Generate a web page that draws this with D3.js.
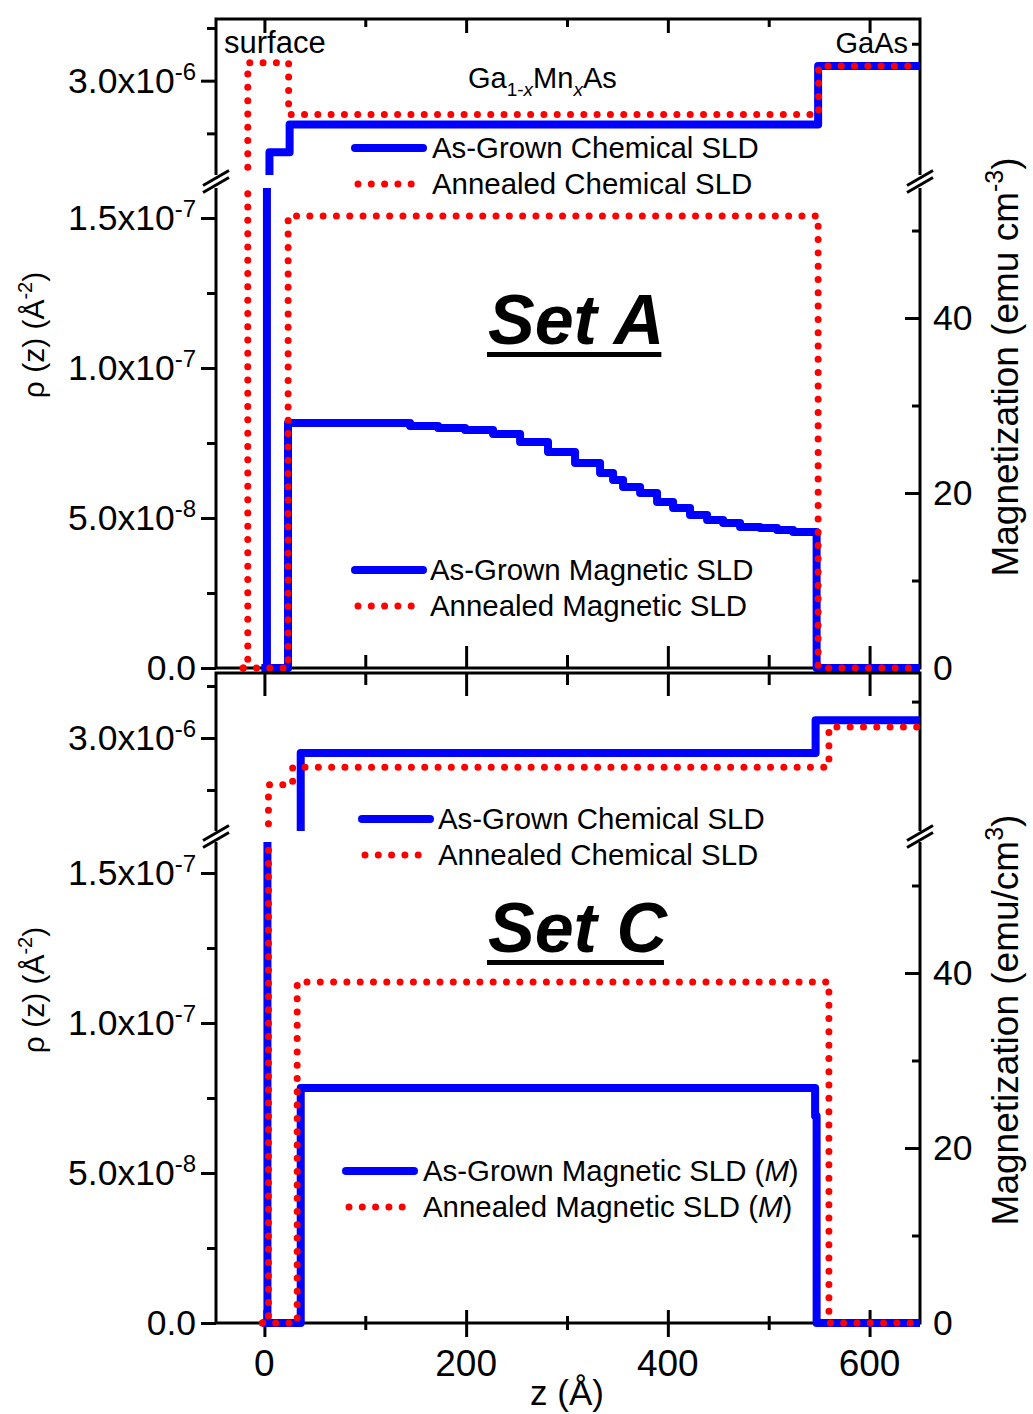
<!DOCTYPE html>
<html><head><meta charset="utf-8">
<script src="https://cdn.jsdelivr.net/npm/d3@7"></script>
<style>
body{margin:0;background:#fff}
svg{display:block}
text{font-family:"Liberation Sans", Arial, Helvetica, sans-serif;fill:#000}
</style>
</head><body>
<svg id="c" width="1033" height="1414"></svg>
<script>
// ---------------- data ----------------
const zTickValues = [0, 200, 400, 600];
const zTickLabels = ["0", "200", "400", "600"];
const zMinorTicks = [100, 300, 500];

const sldMagMajor = [0, 5e-8, 1e-7, 1.5e-7];
const sldMagLabelBase = ["0.0", "5.0x10", "1.0x10", "1.5x10"];
const sldMagLabelExp = ["", "-8", "-7", "-7"];
const sldMagMinor = [2.5e-8, 7.5e-8, 1.25e-7];

const sldChemMajor = [3e-6];
const sldChemLabelBase = ["3.0x10"];
const sldChemLabelExp = ["-6"];
const sldChemMinor = [2.5e-6, 3.5e-6];
const sldChemRight = [3.35e-6];

const magMajor = [0, 20, 40];
const magLabels = ["0", "20", "40"];
const magMinor = [10, 30, 50];

// Set A profiles (z in Å, SLD in Å^-2), step-after
const zA_grownChem   = [-3, 2.5, 5, 25, 549, 650];
const sldA_grownChem = [0, 1.1e-6, 2.32e-6, 2.585e-6, 3.14e-6, 3.14e-6];
const zA_annChem     = [-21, -16.5, 24, 549.5, 650];
const sldA_annChem   = [0, 3.17e-6, 2.68e-6, 3.14e-6, 3.14e-6];
const zA_grownMag    = [-1.5, 23.4, 144.4, 172.2, 199, 226.7, 253.5, 281.2, 308, 332.8, 345.7, 355.6, 372.5, 389.3, 405.2, 422, 438.9, 454.8, 471.6, 491.5, 508.3, 524.2, 547.5, 650];
const sldA_grownMag  = [0, 8.17e-8, 8.07e-8, 8.0e-8, 7.93e-8, 7.8e-8, 7.53e-8, 7.2e-8, 6.83e-8, 6.5e-8, 6.27e-8, 6.03e-8, 5.83e-8, 5.53e-8, 5.33e-8, 5.1e-8, 4.93e-8, 4.83e-8, 4.7e-8, 4.67e-8, 4.6e-8, 4.53e-8, 0, 0];
const zA_annMag      = [-21, 23.5, 549, 650];
const sldA_annMag    = [0, 1.507e-7, 0, 0];

// Set C profiles
const zC_grownChem   = [-2, 3, 36, 546.5, 650];
const sldC_grownChem = [0, 1.1e-6, 2.856e-6, 3.17e-6, 3.17e-6];
const zC_annChem     = [-2, 4, 28, 559.7, 650];
const sldC_annChem   = [0, 2.55e-6, 2.72e-6, 3.105e-6, 3.105e-6];
const zC_grownMag    = [-2, 36, 546, 547.5, 650];
const sldC_grownMag  = [0, 7.83e-8, 6.9e-8, 0, 0];
const zC_annMag      = [-2, 32.5, 559.7, 650];
const sldC_annMag    = [0, 1.137e-7, 0, 0];

// ---------------- drawing ----------------
const svg = d3.select("#c");
const BLUE = "#0000ff", RED = "#ff0000";
const x = d3.scaleLinear().domain([-48, 650]).range([216, 920]);
const XL = 216, XR = 920;

function styleAxis(g) {
  g.select(".domain").remove();
  g.selectAll(".tick line").attr("stroke", "#000").attr("stroke-width", 3);
  g.selectAll(".tick text").remove();
}

function panel(o) {
  const y = d3.scaleLinear().domain(o.yDomain).range(o.yRange);
  const bot = o.yRange[0], gapBot = o.yRange[1], gapTop = o.yRange[2], top = o.yRange[3];
  const m = d3.scaleLinear().domain([0, o.magMax]).range([bot, gapBot]);
  const g = svg.append("g");

  // ticks
  g.append("g").attr("transform", `translate(${XL},0)`)
    .call(d3.axisLeft(y).tickValues(sldMagMajor.concat(sldChemMajor)).tickSize(15).tickSizeOuter(0)).call(styleAxis);
  g.append("g").attr("transform", `translate(${XL},0)`)
    .call(d3.axisLeft(y).tickValues(sldMagMinor.concat(sldChemMinor)).tickSize(9).tickSizeOuter(0)).call(styleAxis);
  g.append("g").attr("transform", `translate(${XR},0)`)
    .call(d3.axisRight(m).tickValues(magMajor).tickSize(-15).tickSizeOuter(0)).call(styleAxis);
  g.append("g").attr("transform", `translate(${XR},0)`)
    .call(d3.axisRight(m).tickValues(magMinor).tickSize(-8).tickSizeOuter(0)).call(styleAxis);
  g.append("g").attr("transform", `translate(${XR},0)`)
    .call(d3.axisRight(y).tickValues(sldChemRight).tickSize(-8).tickSizeOuter(0)).call(styleAxis);
  g.append("g").attr("transform", `translate(0,${top})`)
    .call(d3.axisTop(x).tickValues(zTickValues).tickSize(-o.topMajor).tickSizeOuter(0)).call(styleAxis);
  g.append("g").attr("transform", `translate(0,${top})`)
    .call(d3.axisTop(x).tickValues(zMinorTicks).tickSize(-o.topMinor).tickSizeOuter(0)).call(styleAxis);
  const bMaj = g.append("g").attr("transform", `translate(0,${bot})`)
    .call(d3.axisBottom(x).tickValues(zTickValues).tickSize(o.botMajor[1]).tickSizeOuter(0)).call(styleAxis);
  bMaj.selectAll(".tick line").attr("y1", o.botMajor[0]);
  const bMin = g.append("g").attr("transform", `translate(0,${bot})`)
    .call(d3.axisBottom(x).tickValues(zMinorTicks).tickSize(o.botMinor[1]).tickSizeOuter(0)).call(styleAxis);
  bMin.selectAll(".tick line").attr("y1", o.botMinor[0]);

  // frame
  g.append("rect").attr("x", XL).attr("y", top).attr("width", XR - XL).attr("height", bot - top)
    .attr("fill", "none").attr("stroke", "#000").attr("stroke-width", 3);

  // curves
  const clipId = "clip" + o.id;
  svg.append("clipPath").attr("id", clipId).append("rect")
    .attr("x", XL - 4).attr("y", top - 4).attr("width", XR - XL + 5).attr("height", bot - top + 8);
  const line = d3.line().x(d => x(d[0])).y(d => y(d[1])).curve(d3.curveStepAfter);
  const cg = g.append("g").attr("clip-path", `url(#${clipId})`);
  function blue(z, v) {
    cg.append("path").attr("d", line(d3.zip(z, v))).attr("fill", "none").attr("stroke", BLUE)
      .attr("stroke-width", 8).attr("stroke-linejoin", "round");
  }
  function red(z, v) {
    cg.append("path").attr("d", line(d3.zip(z, v))).attr("fill", "none").attr("stroke", RED)
      .attr("stroke-width", 7).attr("stroke-linecap", "round").attr("stroke-dasharray", "0 13.3");
  }
  blue(o.gc[0], o.gc[1]);
  blue(o.gm[0], o.gm[1]);
  red(o.ac[0], o.ac[1]);
  red(o.am[0], o.am[1]);

  // axis break band
  g.append("rect").attr("x", XL - 14).attr("y", gapTop).attr("width", XR - XL + 28).attr("height", gapBot - gapTop).attr("fill", "#fff");
  const yc = (gapTop + gapBot) / 2;
  [XL, XR].forEach(ax => {
    [-3.5, 3.5].forEach(off => {
      g.append("line").attr("x1", ax - 13).attr("y1", yc + off + 7.5).attr("x2", ax + 13).attr("y2", yc + off - 7.5)
        .attr("stroke", "#000").attr("stroke-width", 3);
    });
  });

  // left tick labels
  function leftLabel(v, base, exp) {
    const t = g.append("text").attr("x", 196).attr("y", y(v) + 12).attr("text-anchor", "end").attr("font-size", 35.5);
    t.append("tspan").text(base);
    if (exp) t.append("tspan").attr("font-size", 24).attr("dy", -13).text(exp);
  }
  sldMagMajor.forEach((v, i) => leftLabel(v, sldMagLabelBase[i], sldMagLabelExp[i]));
  sldChemMajor.forEach((v, i) => leftLabel(v, sldChemLabelBase[i], sldChemLabelExp[i]));
  // right tick labels
  magMajor.forEach((v, i) => {
    g.append("text").attr("x", 933).attr("y", m(v) + 12).attr("font-size", 35.5).text(magLabels[i]);
  });

  // left axis title
  const lt = g.append("text").attr("transform", `translate(44,${o.leftTitleY}) rotate(-90)`)
    .attr("text-anchor", "middle").attr("font-size", 30);
  lt.append("tspan").text("ρ (z) (Å");
  lt.append("tspan").attr("font-size", 20).attr("dy", -12).text("-2");
  lt.append("tspan").attr("dy", 12).text(")");
  // right axis title
  const rt = g.append("text").attr("transform", `translate(1018,${o.rightTitleY}) rotate(-90)`)
    .attr("text-anchor", "middle").attr("font-size", 37);
  rt.append("tspan").text(o.rightTitle[0]);
  rt.append("tspan").attr("font-size", 25).attr("dy", -15).text(o.rightTitle[1]);
  rt.append("tspan").attr("dy", 15).text(")");

  // legends
  function legend(items, xs, xt, fs) {
    items.forEach(it => {
      if (it.type === "blue") {
        g.append("line").attr("x1", xs[0]).attr("x2", xs[1]).attr("y1", it.y).attr("y2", it.y)
          .attr("stroke", BLUE).attr("stroke-width", 8).attr("stroke-linecap", "round");
      } else {
        g.append("line").attr("x1", xs[0] + 3).attr("x2", xs[1]).attr("y1", it.y).attr("y2", it.y)
          .attr("stroke", RED).attr("stroke-width", 7).attr("stroke-linecap", "round").attr("stroke-dasharray", "0 13.3");
      }
      const t = g.append("text").attr("x", xt).attr("y", it.y + 10).attr("font-size", fs);
      it.parts.forEach(p => {
        const s = t.append("tspan").text(p[0]);
        if (p[1]) s.attr("font-style", "italic");
      });
    });
  }
  legend(o.chemLegend.items, o.chemLegend.xs, o.chemLegend.xt, 29.4);
  legend(o.magLegend.items, o.magLegend.xs, o.magLegend.xt, 29.4);

  // Set title
  const st = g.append("text").attr("x", 488).attr("y", o.titleY).attr("font-size", 70)
    .attr("font-weight", "bold").attr("font-style", "italic").text(o.title);
  const w = st.node().getComputedTextLength();
  g.append("rect").attr("x", 487).attr("y", o.titleY + 8).attr("width", w - 2).attr("height", 5).attr("fill", "#000");

  return { y, m, g };
}

const A = panel({
  id: "A",
  yDomain: [0, 1.6e-7, 2.105e-6, 3.585e-6], yRange: [668, 188, 175, 19], magMax: 54.86,
  topMajor: 14, topMinor: 8, botMajor: [0, -22], botMinor: [0, -13],
  gc: [zA_grownChem, sldA_grownChem], gm: [zA_grownMag, sldA_grownMag],
  ac: [zA_annChem, sldA_annChem], am: [zA_annMag, sldA_annMag],
  leftTitleY: 335, rightTitleY: 367, rightTitle: ["Magnetization (emu cm", "-3"],
  chemLegend: { xs: [355, 423], xt: 432, items: [
    { type: "blue", y: 148, parts: [["As-Grown Chemical SLD"]] },
    { type: "red", y: 184, parts: [["Annealed Chemical SLD"]] }] },
  magLegend: { xs: [355, 423], xt: 430, items: [
    { type: "blue", y: 570, parts: [["As-Grown Magnetic SLD"]] },
    { type: "red", y: 606, parts: [["Annealed Magnetic SLD"]] }] },
  title: "Set A", titleY: 344
});

const C = panel({
  id: "C",
  yDomain: [0, 1.6033e-7, 2.106e-6, 3.625e-6], yRange: [1323, 842, 831, 673], magMax: 54.97,
  topMajor: 23, topMinor: 12, botMajor: [-13, 14], botMinor: [-7, 7],
  gc: [zC_grownChem, sldC_grownChem], gm: [zC_grownMag, sldC_grownMag],
  ac: [zC_annChem, sldC_annChem], am: [zC_annMag, sldC_annMag],
  leftTitleY: 990, rightTitleY: 1020, rightTitle: ["Magnetization (emu/cm", "3"],
  chemLegend: { xs: [362, 430], xt: 438, items: [
    { type: "blue", y: 819, parts: [["As-Grown Chemical SLD"]] },
    { type: "red", y: 855, parts: [["Annealed Chemical SLD"]] }] },
  magLegend: { xs: [346, 414], xt: 423, items: [
    { type: "blue", y: 1171, parts: [["As-Grown Magnetic SLD ("], ["M", true], [")"]] },
    { type: "red", y: 1207, parts: [["Annealed Magnetic SLD ("], ["M", true], [")"]] }] },
  title: "Set C", titleY: 952
});

// x tick labels & title
zTickValues.forEach((v, i) => {
  svg.append("text").attr("x", x(v)).attr("y", 1376).attr("text-anchor", "middle").attr("font-size", 37).text(zTickLabels[i]);
});
svg.append("text").attr("x", 567).attr("y", 1405).attr("text-anchor", "middle").attr("font-size", 35).text("z (Å)");

// annotations (top panel)
svg.append("text").attr("x", 224).attr("y", 53).attr("font-size", 31).text("surface");
svg.append("text").attr("x", 908).attr("y", 53).attr("text-anchor", "end").attr("font-size", 29).text("GaAs");
const gm = svg.append("text").attr("x", 468).attr("y", 88).attr("font-size", 29);
gm.append("tspan").text("Ga");
gm.append("tspan").attr("font-size", 19).attr("dy", 8).text("1-");
gm.append("tspan").attr("font-size", 19).attr("font-style", "italic").text("x");
gm.append("tspan").attr("dy", -8).text("Mn");
gm.append("tspan").attr("font-size", 19).attr("font-style", "italic").attr("dy", 8).text("x");
gm.append("tspan").attr("dy", -8).text("As");
</script>
</body></html>
